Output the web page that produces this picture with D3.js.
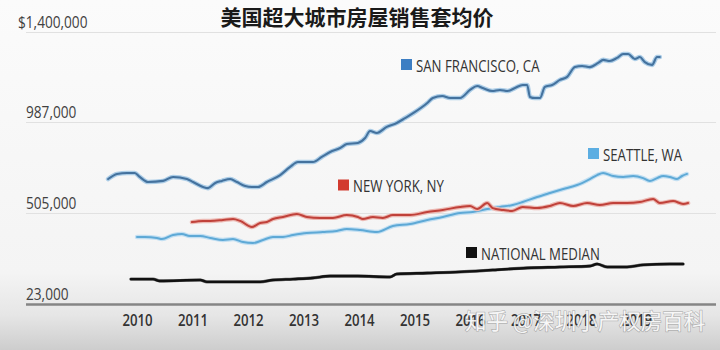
<!DOCTYPE html>
<html>
<head>
<meta charset="utf-8">
<script src="https://cdn.jsdelivr.net/npm/d3@7"></script>
<style>
  html, body { margin: 0; padding: 0; background: #f8f8f8; }
  svg { display: block; }
</style>
</head>
<body>
<svg id="chart" width="720" height="350"></svg>
<script>
// Average sale price of homes in large US cities, 2009–2019
const title = "美国超大城市房屋销售套均价";
const watermark = "知乎 @深圳小产权房百科";

const years = [2010, 2011, 2012, 2013, 2014, 2015, 2016, 2017, 2018, 2019];
const yTickValues = [23000, 505000, 987000, 1400000];
const yTickLabels = ["23,000", "505,000", "987,000", "$1,400,000"];

const seriesNames = ["SAN FRANCISCO, CA", "SEATTLE, WA", "NEW YORK, NY", "NATIONAL MEDIAN"];

// [decimal year, price in USD]
const sanFrancisco = [
  [2009.48, 685000], [2009.64, 712000], [2009.82, 717000], [2009.96, 717000],
  [2010.05, 696000], [2010.20, 669000], [2010.47, 675000], [2010.65, 696000],
  [2010.90, 685000], [2011.01, 669000], [2011.19, 643000], [2011.28, 637000],
  [2011.41, 664000], [2011.53, 675000], [2011.68, 685000], [2011.80, 669000],
  [2011.95, 648000], [2012.07, 643000], [2012.18, 643000], [2012.34, 669000],
  [2012.58, 706000], [2012.76, 749000], [2012.90, 775000], [2013.03, 775000],
  [2013.17, 775000], [2013.33, 802000], [2013.48, 828000], [2013.66, 849000],
  [2013.78, 870000], [2013.98, 876000], [2014.11, 902000], [2014.20, 939000],
  [2014.32, 929000], [2014.50, 961000], [2014.68, 982000], [2014.83, 1005000],
  [2015.01, 1033000], [2015.23, 1074000], [2015.33, 1097000], [2015.50, 1106000],
  [2015.64, 1097000], [2015.82, 1097000], [2016.00, 1134000], [2016.13, 1152000],
  [2016.23, 1143000], [2016.40, 1129000], [2016.54, 1134000], [2016.68, 1129000],
  [2016.81, 1143000], [2016.95, 1157000], [2017.03, 1157000], [2017.08, 1102000],
  [2017.17, 1097000], [2017.26, 1097000], [2017.35, 1148000], [2017.48, 1157000],
  [2017.62, 1180000], [2017.75, 1194000], [2017.89, 1239000], [2018.02, 1244000],
  [2018.16, 1239000], [2018.31, 1258000], [2018.40, 1272000], [2018.52, 1267000],
  [2018.65, 1281000], [2018.76, 1299000], [2018.85, 1299000], [2018.97, 1276000],
  [2019.06, 1285000], [2019.15, 1262000], [2019.28, 1249000], [2019.37, 1285000],
  [2019.42, 1285000]
];

const seattle = [
  [2010.00, 378000], [2010.14, 378000], [2010.36, 373000], [2010.45, 367000],
  [2010.65, 388000], [2010.81, 394000], [2010.95, 383000], [2011.14, 383000],
  [2011.32, 373000], [2011.55, 362000], [2011.73, 367000], [2011.91, 351000],
  [2012.09, 346000], [2012.27, 362000], [2012.45, 378000], [2012.63, 378000],
  [2012.81, 388000], [2013.06, 399000], [2013.35, 404000], [2013.60, 410000],
  [2013.78, 420000], [2014.02, 415000], [2014.32, 404000], [2014.61, 436000],
  [2014.92, 447000], [2015.23, 468000], [2015.51, 484000], [2015.82, 505000],
  [2016.05, 510000], [2016.31, 526000], [2016.54, 537000], [2016.77, 547000],
  [2016.95, 563000], [2017.21, 590000], [2017.44, 611000], [2017.68, 632000],
  [2017.93, 653000], [2018.16, 685000], [2018.29, 706000], [2018.40, 717000],
  [2018.58, 701000], [2018.76, 696000], [2018.94, 701000], [2019.12, 690000],
  [2019.24, 675000], [2019.37, 690000], [2019.48, 701000], [2019.60, 696000],
  [2019.73, 685000], [2019.82, 701000], [2019.91, 712000]
];

const newYork = [
  [2010.99, 457000], [2011.19, 463000], [2011.32, 463000], [2011.55, 468000],
  [2011.73, 473000], [2011.86, 463000], [2012.07, 431000], [2012.22, 452000],
  [2012.34, 457000], [2012.45, 473000], [2012.63, 484000], [2012.88, 500000],
  [2013.06, 484000], [2013.30, 479000], [2013.53, 479000], [2013.78, 494000],
  [2013.98, 484000], [2014.07, 473000], [2014.25, 484000], [2014.43, 479000],
  [2014.61, 494000], [2014.92, 494000], [2015.23, 510000], [2015.51, 521000],
  [2015.82, 537000], [2016.00, 542000], [2016.13, 526000], [2016.31, 558000],
  [2016.41, 531000], [2016.59, 521000], [2016.76, 516000], [2016.95, 537000],
  [2017.21, 531000], [2017.44, 542000], [2017.62, 558000], [2017.86, 542000],
  [2018.11, 558000], [2018.34, 547000], [2018.58, 558000], [2018.83, 558000],
  [2019.06, 563000], [2019.30, 579000], [2019.42, 558000], [2019.66, 568000],
  [2019.84, 553000], [2019.93, 558000]
];

const nationalMedian = [
  [2009.89, 155000], [2010.29, 155000], [2010.41, 145000], [2011.14, 150000],
  [2011.26, 140000], [2012.22, 140000], [2012.45, 150000], [2012.81, 155000],
  [2013.17, 161000], [2013.48, 171000], [2013.98, 171000], [2014.56, 166000],
  [2014.68, 182000], [2015.23, 187000], [2015.82, 193000], [2016.41, 203000],
  [2017.03, 214000], [2017.62, 219000], [2018.16, 224000], [2018.29, 235000],
  [2018.47, 219000], [2018.83, 219000], [2019.12, 230000], [2019.60, 235000],
  [2019.84, 235000]
];

const W = 720, H = 350;
const svg = d3.select("#chart");
const LATIN = "'Open Sans', 'Noto Sans', sans-serif";
const CJK = "'Noto Sans CJK SC', 'Noto Sans', sans-serif";

// narrow a text run to mimic a condensed face
function condense(sel, k) {
  sel.each(function () {
    const w = this.getComputedTextLength();
    d3.select(this).attr("textLength", w * k).attr("lengthAdjust", "spacingAndGlyphs");
  });
}

// background wash, darker toward the bottom edge
const defs = svg.append("defs");
const bg = defs.append("linearGradient").attr("id", "bg").attr("x1", 0).attr("y1", 0).attr("x2", 0).attr("y2", 1);
bg.append("stop").attr("offset", "0%").attr("stop-color", "#fbfbfb");
bg.append("stop").attr("offset", "78%").attr("stop-color", "#f4f4f4");
bg.append("stop").attr("offset", "90%").attr("stop-color", "#e6e6e6");
bg.append("stop").attr("offset", "100%").attr("stop-color", "#cdcdcd");
svg.append("rect").attr("width", W).attr("height", H).attr("fill", "url(#bg)");

const x = d3.scaleLinear().domain([2010, 2019]).range([137, 636.5]);
const y = d3.scaleLinear().domain(yTickValues).range([304, 213, 122, 32]);

const gridLeft = 26, gridRight = 716;

// horizontal gridlines
const yAxis = d3.axisRight(y)
  .tickValues(yTickValues)
  .tickSize(gridRight - gridLeft)
  .tickFormat("");
const gY = svg.append("g").attr("transform", `translate(${gridLeft},0)`).call(yAxis);
gY.select(".domain").remove();
gY.selectAll(".tick line")
  .attr("stroke", d => d === yTickValues[0] ? "#858585" : "#e1e1e1")
  .attr("stroke-width", d => d === yTickValues[0] ? 2.6 : 1);

// value labels sit just above their gridlines
const yLabels = svg.append("g").selectAll("text")
  .data(yTickValues)
  .join("text")
  .attr("x", (d, i) => yTickLabels[i].startsWith("$") ? 18 : gridLeft)
  .attr("y", d => y(d) - 10)
  .attr("dominant-baseline", "central")
  .attr("font-family", LATIN)
  .attr("font-size", 15.5)
  .attr("fill", "#404040")
  .text((d, i) => yTickLabels[i]);
condense(yLabels, 0.88);

// year axis
const xAxis = d3.axisBottom(x)
  .tickValues(years)
  .tickFormat(d3.format("d"))
  .tickSize(0)
  .tickPadding(10);
const gX = svg.append("g").attr("transform", "translate(0,304)").call(xAxis);
gX.select(".domain").remove();
const xt = gX.selectAll(".tick text")
  .attr("font-family", LATIN)
  .attr("font-size", 16.5)
  .attr("font-weight", 600)
  .attr("fill", "#333");
condense(xt, 0.8);

// series lines: a pale halo under a thinner core stroke
const line = d3.line().x(d => x(d[0])).y(d => y(d[1])).curve(d3.curveMonotoneX);
const series = [
  { data: nationalMedian, halo: "#6f6f6f", haloW: 3.2, core: "#111111", coreW: 2.4 },
  { data: seattle,        halo: "#c2dff2", haloW: 4.4, core: "#5ea9d6", coreW: 2.0 },
  { data: newYork,        halo: "#ecb8b2", haloW: 4.4, core: "#c0413a", coreW: 2.0 },
  { data: sanFrancisco,   halo: "#accde7", haloW: 4.6, core: "#44729e", coreW: 2.1 }
];
const gLines = svg.append("g");
series.forEach(s => {
  gLines.append("path").datum(s.data).attr("d", line)
    .attr("fill", "none").attr("stroke", s.halo).attr("stroke-width", s.haloW)
    .attr("stroke-linejoin", "round").attr("stroke-linecap", "round");
  gLines.append("path").datum(s.data).attr("d", line)
    .attr("fill", "none").attr("stroke", s.core).attr("stroke-width", s.coreW)
    .attr("stroke-linejoin", "round").attr("stroke-linecap", "round");
});

// inline legends next to each line
const legendSwatch = ["#3d7ec3", "#5caee2", "#d23a2f", "#111111"];
const legendPos = [[401, 64.5], [588, 153.5], [338, 185], [466, 252.5]];
const gLeg = svg.append("g");
seriesNames.forEach((name, i) => {
  const [lx, ly] = legendPos[i];
  gLeg.append("rect").attr("x", lx).attr("y", ly - 5.5).attr("width", 11).attr("height", 11)
    .attr("fill", legendSwatch[i]);
  const t = gLeg.append("text")
    .attr("x", lx + 15).attr("y", ly + 0.5)
    .attr("dominant-baseline", "central")
    .attr("font-family", LATIN).attr("font-size", 16.5)
    .attr("fill", "#333")
    .text(name);
  condense(t, 0.8);
});

// title
svg.append("text")
  .attr("x", 357).attr("y", 16)
  .attr("text-anchor", "middle").attr("dominant-baseline", "central")
  .attr("font-family", CJK).attr("font-size", 21).attr("font-weight", 700)
  .attr("fill", "#1a1a1a")
  .text(title);

// source watermark, laid over the later year labels
svg.append("text")
  .attr("x", 465).attr("y", 319)
  .attr("dominant-baseline", "central")
  .attr("font-family", CJK).attr("font-size", 21.5)
  .attr("fill", "#ffffff").attr("fill-opacity", 0.9)
  .attr("stroke", "#6a6a6a").attr("stroke-opacity", 0.4).attr("stroke-width", 1.4)
  .attr("paint-order", "stroke")
  .text(watermark);
</script>
</body>
</html>
